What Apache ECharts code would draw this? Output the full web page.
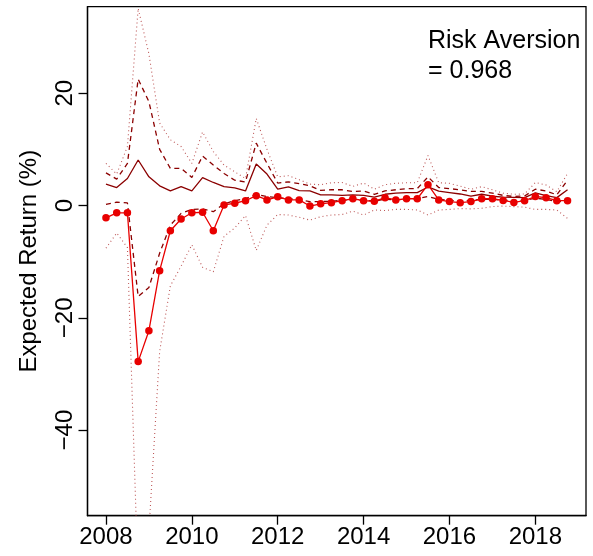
<!DOCTYPE html>
<html>
<head>
<meta charset="utf-8">
<script src="https://cdn.jsdelivr.net/npm/echarts@6/dist/echarts.min.js"></script>
<style>
html,body{margin:0;padding:0;background:#fff;}
#chart{width:593px;height:556px;}
</style>
</head>
<body>
<div id="chart"></div>
<script>
const quarters = [2008, 2008.25, 2008.5, 2008.75, 2009, 2009.25, 2009.5, 2009.75,
  2010, 2010.25, 2010.5, 2010.75, 2011, 2011.25, 2011.5, 2011.75,
  2012, 2012.25, 2012.5, 2012.75, 2013, 2013.25, 2013.5, 2013.75,
  2014, 2014.25, 2014.5, 2014.75, 2015, 2015.25, 2015.5, 2015.75,
  2016, 2016.25, 2016.5, 2016.75, 2017, 2017.25, 2017.5, 2017.75,
  2018, 2018.25, 2018.5, 2018.75];

const expectedReturn = [-2.2, -1.3, -1.3, -27.8, -22.3, -11.6, -4.5, -2.4,
  -1.3, -1.2, -4.5, 0.1, 0.4, 0.85, 1.75, 1.0,
  1.55, 1.0, 1.0, -0.1, 0.3, 0.5, 0.85, 1.2,
  0.85, 0.75, 1.4, 1.0, 1.2, 1.2, 3.7, 1.0,
  0.7, 0.5, 0.7, 1.2, 1.2, 0.9, 0.55, 0.85,
  1.6, 1.4, 0.85, 0.85];

const medianLine = [3.8, 3.2, 4.8, 8.1, 5.1, 3.5, 2.6, 3.35,
  2.6, 4.95, 4.1, 3.35, 3.15, 2.6, 7.4, 5.6,
  2.9, 3.3, 2.65, 2.6, 1.9, 1.9, 1.8, 1.9,
  1.8, 1.5, 2.0, 2.2, 2.3, 2.3, 3.3, 2.55,
  2.3, 2.05, 1.65, 2.0, 1.65, 1.5, 1.45, 1.4,
  2.25, 1.75, 1.4, 2.8];

const upperDashed = [5.8, 4.7, 7.5, 22.5, 18.5, 10.0, 6.6, 6.6,
  5.0, 8.8, 7.2, 5.7, 4.5, 4.2, 11.1, 7.5,
  4.0, 4.2, 3.9, 3.5, 2.7, 2.8, 2.8, 2.5,
  2.6, 2.0, 2.6, 2.8, 3.0, 3.0, 5.1, 3.2,
  3.0, 2.8, 2.5, 2.5, 2.2, 1.8, 1.6, 1.7,
  2.9, 2.6, 1.9, 4.5];

const lowerDashed = [0.2, 0.6, 0.45, -16.2, -14.6, -8.5, -3.5, -1.4,
  -0.7, -0.6, -1.1, 0.3, 0.85, 1.2, 2.0, 1.6,
  1.4, 1.2, 1.0, 0.7, 0.7, 0.75, 0.95, 1.0,
  0.9, 0.8, 1.1, 1.0, 1.1, 1.2, 1.6, 1.1,
  0.9, 0.8, 0.9, 1.1, 1.1, 0.95, 0.8, 0.95,
  1.3, 1.1, 0.7, 0.85];

const upperDotted = [7.5, 5.6, 10.5, 35.1, 27.0, 14.7, 11.7, 10.5,
  7.5, 13.1, 9.6, 7.2, 6.0, 4.8, 15.5, 10.0,
  5.1, 5.3, 4.6, 3.8, 3.7, 4.05, 4.1, 3.4,
  4.0, 2.9, 3.7, 3.95, 4.05, 4.05, 8.9, 4.05,
  3.95, 3.45, 2.9, 3.35, 2.8, 2.2, 2.0, 2.05,
  4.1, 3.65, 2.45, 5.7];

const lowerDotted = [-7.6, -4.9, -7.5, -67.0, -58.0, -26.0, -14.3, -10.8,
  -7.0, -11.0, -11.8, -5.5, -4.0, -1.8, -8.0, -3.5,
  -1.6, -1.7, -2.1, -2.6, -2.0, -1.7, -1.6, -1.0,
  -1.7, -0.8, -0.9, -0.7, -0.7, -0.8, -1.7, -0.8,
  -0.7, -0.55, -0.6, -0.5, -0.2, -0.1, -0.2, -0.3,
  -0.7, -0.7, -0.8, -2.3];

const xTicks = [2008, 2010, 2012, 2014, 2016, 2018];
const yTicks = [-40, -20, 0, 20];
const annotationLines = ['Risk Aversion', '= 0.968'];
const yTitle = 'Expected Return (%)';

const FONT = '"Liberation Sans", Arial, Helvetica, sans-serif';
const pair = arr => quarters.map((q, i) => [q, arr[i]]);

const chart = echarts.init(document.getElementById('chart'), null, {renderer: 'canvas'});

const dotLine = (arr) => ({
  type: 'line', data: pair(arr), showSymbol: false, symbol: 'none',
  lineStyle: {color: '#B23A3A', width: 1.1, type: [1, 3], opacity: 0.85}, z: 2, silent: true
});
const dashLine = (arr) => ({
  type: 'line', data: pair(arr), showSymbol: false, symbol: 'none',
  lineStyle: {color: '#8B0000', width: 1.3, type: [5, 4]}, z: 3, silent: true
});

chart.setOption({
  animation: false,
  backgroundColor: '#fff',
  grid: {left: 87.5, top: 6.7, width: 498.5, height: 509, show: true,
         borderColor: '#000', borderWidth: 1.3, backgroundColor: 'transparent', containLabel: false},
  xAxis: {
    type: 'value', min: 2007.57, max: 2019.18,
    axisLine: {show: true, onZero: false, lineStyle: {color: '#000', width: 1.3}},
    splitLine: {show: false},
    axisTick: {show: true, customValues: xTicks, length: 9, lineStyle: {color: '#000', width: 1.3}},
    axisLabel: {customValues: xTicks, fontSize: 24, color: '#000', fontFamily: FONT, margin: 10,
                formatter: v => String(v)}
  },
  yAxis: {
    type: 'value', min: -55.24, max: 35.4,
    axisLine: {show: true, onZero: false, lineStyle: {color: '#000', width: 1.3}},
    splitLine: {show: false},
    axisTick: {show: true, customValues: yTicks, length: 9, lineStyle: {color: '#000', width: 1.3}},
    axisLabel: {customValues: yTicks, fontSize: 24, color: '#000', fontFamily: FONT, margin: 10, rotate: 90,
                formatter: v => v < 0 ? '\u2212' + Math.abs(v) : String(v)},
    name: yTitle, nameLocation: 'middle', nameRotate: 90, nameGap: 46,
    nameTextStyle: {fontSize: 24, color: '#000', fontFamily: FONT}
  },
  series: [
    dotLine(upperDotted),
    dotLine(lowerDotted),
    dashLine(upperDashed),
    dashLine(lowerDashed),
    {type: 'line', data: pair(medianLine), showSymbol: false, symbol: 'none',
     lineStyle: {color: '#8B0000', width: 1.3, type: 'solid'}, z: 4, silent: true},
    {type: 'line', data: pair(expectedReturn), symbol: 'circle', symbolSize: 7.5, showSymbol: true,
     itemStyle: {color: '#E80000'}, lineStyle: {color: '#E80000', width: 1.3}, z: 5, silent: true}
  ],
  graphic: [
    {type: 'text', left: 428, top: 29, silent: true,
     style: {text: annotationLines[0], font: '25px ' + FONT, fill: '#000'}},
    {type: 'text', left: 428, top: 59, silent: true,
     style: {text: annotationLines[1], font: '25px ' + FONT, fill: '#000'}}
  ]
});
</script>
</body>
</html>
